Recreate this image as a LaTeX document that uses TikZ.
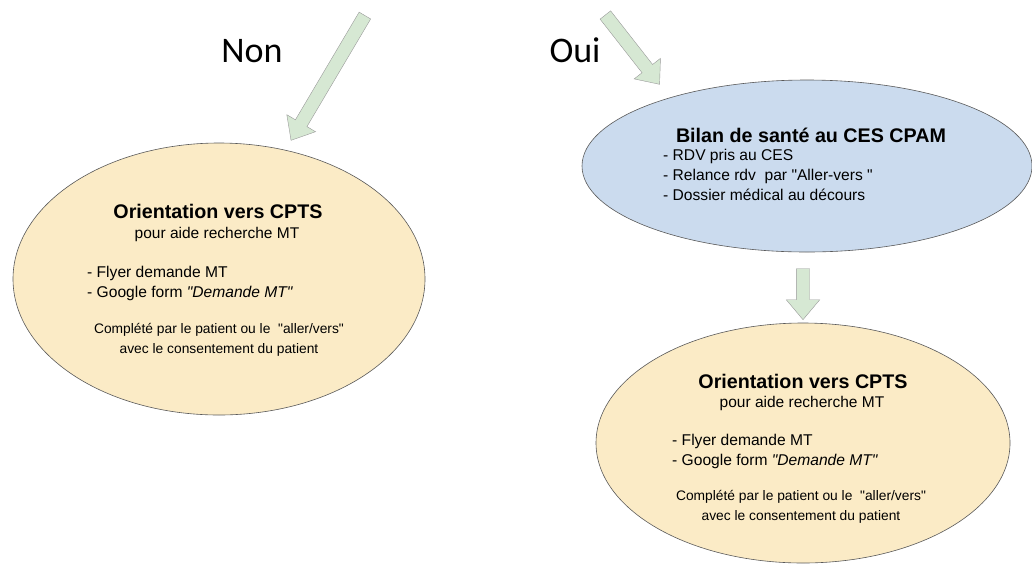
\documentclass[tikz,border=0pt]{standalone}
\usepackage{fontspec}
\setmainfont{Liberation Sans}
\newfontfamily\calibri{Carlito}
\usetikzlibrary{calc}
\usetikzlibrary{positioning}
\usetikzlibrary{shapes.geometric,shapes.arrows}
\definecolor{jaune}{RGB}{251,235,198}
\definecolor{bleuciel}{RGB}{203,219,238}
\definecolor{vertpale}{RGB}{214,232,211}
\newcommand{\gu}{\textquotedbl}
\tikzset{
	bulle/.style={
		ellipse, 
		draw=black!65, semithick,
		inner sep=0pt},
	fleche/.style={
		single arrow, 
		fill=vertpale,
		draw=black!40,
		inner xsep=0pt, inner ysep=6.5pt,
		single arrow head extend=10pt,
		single arrow tip angle=80,
		sloped, allow upside down},
	titre/.style={font=\bfseries\fontsize{19.7}{22}\selectfont, inner sep=0pt, anchor=base},
	sous/.style={font=\fontsize{15.5}{18}\selectfont, inner sep=0pt, anchor=base},
	liste/.style={font=\fontsize{15.6}{20}\selectfont, align=left, inner sep=0pt, anchor=base west},
	note/.style={font=\fontsize{13.8}{20}\selectfont, align=center, inner sep=0pt, anchor=base},
	reponse/.style={font=\calibri\fontsize{36}{40}\selectfont, inner sep=0pt, anchor=base},
}
\begin{document}
\begin{tikzpicture}[x=1pt, y=-1pt]
	\useasboundingbox (0,0) rectangle (1032,566);
	% les deux reponses
	\node[reponse] (non) at (252,62) {Non};
	\node[reponse] (oui) at (575,62) {Oui};
	
	% branche Non
	\node[bulle, fill=jaune, minimum width=412pt, minimum height=272pt] (cptsG) at (219,279) {};
	\node[titre] (cptsGtitre) at (218,218) {Orientation vers CPTS};
	\node[sous] (cptsGsous) at (217,238) {pour aide recherche MT};
	\node[liste] (cptsGliste) at (87,297) {- Flyer demande MT\\- Google form \textit{\gu Demande MT\gu}};
	\node[note] (cptsGnote) at (219,353) {Complété par le patient ou le \ \gu aller/vers\gu\\avec le consentement du patient};
	
	% branche Oui
	\node[bulle, fill=bleuciel, minimum width=450pt, minimum height=172pt] (ces) at (807,166) {};
	\node[titre] (cesTitre) at (811,142) {Bilan de santé au CES CPAM};
	\node[liste] (cesListe) at (663,200) {- RDV pris au CES\\- Relance rdv \ par \gu Aller-vers \gu\\- Dossier médical au décours};
	
	\node[bulle, fill=jaune, minimum width=414pt, minimum height=240pt] (cptsD) at (803,443) {};
	\node[titre] (cptsDtitre) at (803,388) {Orientation vers CPTS};
	\node[sous] (cptsDsous) at (802,407) {pour aide recherche MT};
	\node[liste] (cptsDliste) at (672,465) {- Flyer demande MT\\- Google form \textit{\gu Demande MT\gu}};
	\node[note] (cptsDnote) at (801,520) {Complété par le patient ou le \ \gu aller/vers\gu\\avec le consentement du patient};
	
	% fleches
	\coordinate (nonDepart) at (367,12);
	\coordinate (nonPointe) at (293,137);
	\coordinate (ouiDepart) at (603,12);
	\coordinate (ouiPointe) at (657,81);
	\path (nonDepart) -- node[fleche, minimum height=145pt] (flecheNon) {} (nonPointe);
	\path (ouiDepart) -- node[fleche, minimum height=88pt] (flecheOui) {} (ouiPointe);
	\path ([yshift=58pt]cptsD.north) -- node[fleche, minimum height=51pt] (flecheBas) {} ([yshift=7pt]cptsD.north);
	
\end{tikzpicture}
\end{document}
